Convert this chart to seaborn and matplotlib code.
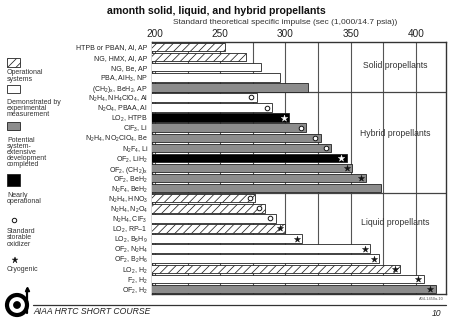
import matplotlib
matplotlib.use("Agg")
import numpy as np
import pandas as pd
import seaborn as sns
import matplotlib.pyplot as plt
from matplotlib.patches import Rectangle, Ellipse
from matplotlib.lines import Line2D

sns.set_theme(style="white")
plt.rcParams["font.family"] = ["Liberation Sans", "DejaVu Sans"]
plt.rcParams["mathtext.fontset"] = "custom"
plt.rcParams["mathtext.rm"] = "Liberation Sans"
plt.rcParams["mathtext.it"] = "Liberation Sans:italic"
plt.rcParams["mathtext.bf"] = "Liberation Sans:bold"
plt.rcParams["mathtext.default"] = "regular"
plt.rcParams["hatch.linewidth"] = 0.55

# ---------------- data ----------------
labels = [
    "HTPB or PBAN, Al, AP",
    "NG, HMX, Al, AP",
    "NG, Be, AP",
    "PBA, AlH$_3$, NP",
    "(CH$_2$)$_x$, BeH$_2$, AP",
    "N$_2$H$_4$, NH$_4$ClO$_4$, Al",
    "N$_2$O$_4$, PBAA, Al",
    "LO$_2$, HTPB",
    "ClF$_3$, Li",
    "N$_2$H$_4$, NO$_2$ClO$_4$, Be",
    "N$_2$F$_4$, Li",
    "OF$_2$, LiH$_2$",
    "OF$_2$, (CH$_2$)$_x$",
    "OF$_2$, BeH$_2$",
    "N$_2$F$_4$, BeH$_2$",
    "N$_2$H$_4$, HNO$_3$",
    "N$_2$H$_4$, N$_2$O$_4$",
    "N$_2$H$_4$, ClF$_3$",
    "LO$_2$, RP\u20131",
    "LO$_2$, B$_5$H$_9$",
    "OF$_2$, N$_2$H$_4$",
    "OF$_2$, B$_2$H$_6$",
    "LO$_2$, H$_2$",
    "F$_2$, H$_2$",
    "OF$_2$, H$_2$",
]
isp = [254, 270, 281, 296, 317,
       278, 290, 303, 316, 327, 335, 347, 351, 362, 373,
       277, 284, 292.5, 300, 313, 365, 372, 388, 406, 415]
status = ["op", "op", "demo", "demo", "pot",
          "demo", "demo", "near", "pot", "pot", "pot", "near", "pot", "pot", "pot",
          "op", "op", "demo", "op", "demo", "demo", "demo", "op", "demo", "pot"]
note = ["", "", "", "", "",
        "o", "o", "*", "o", "o", "o", "*", "*", "*", "",
        "o", "o", "o", "*", "*", "*", "*", "*", "*", "*"]
ticks = [200, 250, 300, 350, 400]
section_names = ["Solid propellants", "Hybrid propellants", "Liquid propellants"]
section_label_rows = [1.8, 8.6, 17.45]
section_breaks = [4.5, 14.5]

df = pd.DataFrame({"label": labels, "isp": isp, "status": status, "note": note})
df["row"] = np.arange(len(df))

GRAY = "#8c8c8c"
face = {"op": "white", "demo": "white", "pot": GRAY, "near": "black"}
hatch = {"op": "////", "demo": None, "pot": None, "near": None}

# ---------------- figure ----------------
W, H = 451, 319
fig = plt.figure(figsize=(W / 100, H / 100), dpi=100)
ax = fig.add_axes([152 / W, 1 - 294 / H, (446 - 152) / W, (294 - 42) / H])

def fx(x):
    return x / W

def fy(y):
    return 1 - y / H

sns.barplot(data=df, x="isp", y="label", order=labels, color="white",
            orient="h", width=0.84, edgecolor="#222222", linewidth=0.6,
            errorbar=None, ax=ax)

for p in ax.patches:
    r = int(round(p.get_y() + p.get_height() / 2))
    k = df["status"].iloc[r]
    p.set_facecolor(face[k])
    if hatch[k]:
        p.set_hatch(hatch[k])
    p.set_zorder(3)

off = 4.2
circ = df[df["note"] == "o"]
sns.scatterplot(x=circ["isp"] - off, y=circ["row"], marker="o", s=11,
                color="white", edgecolor="#111111", linewidth=0.7, ax=ax, zorder=6)
stars = df[df["note"] == "*"]
dark = stars[stars["status"] == "near"]
light = stars[stars["status"] != "near"]
sns.scatterplot(x=light["isp"] - off, y=light["row"], marker="*", s=22,
                color="#111111", edgecolor="#111111", linewidth=0.3, ax=ax, zorder=6)
sns.scatterplot(x=dark["isp"] - off, y=dark["row"], marker="*", s=24,
                color="white", edgecolor="white", linewidth=0.3, ax=ax, zorder=6)

ax.set_xlim(197.7, 423)
ax.set_ylim(24.5, -0.5)
ax.set_yticks(range(len(labels)))
ax.set_yticklabels(labels)
ax.set_xticks(ticks)
ax.set_xticks([225, 275, 325, 375], minor=True)
ax.xaxis.tick_top()
ax.set_axisbelow(True)
ax.grid(axis="x", which="both", color="#555555", lw=0.8)
ax.tick_params(axis="x", which="both", length=0, pad=2.5, labelsize=7.2, colors="#222222")
ax.tick_params(axis="y", length=0, pad=3, labelsize=5, colors="#222222")
ax.set_xlabel("")
ax.set_ylabel("")
for s in ax.spines.values():
    s.set_visible(True)
    s.set_color("#333333")
    s.set_linewidth(1.0)
for yb in section_breaks:
    ax.axhline(yb, color="#444444", lw=0.9, zorder=2)
for name, r in zip(section_names, section_label_rows):
    ax.text(383.9, r, name, ha="center", va="center", fontsize=6.2, color="#333333", zorder=1)

# titles
fig.text(fx(216), fy(11), "amonth solid, liquid, and hybrid propellants",
         ha="center", va="center", fontsize=7.6, weight="bold", color="#111111")
fig.text(fx(285), fy(22), "Standard theoretical specific impulse (sec (1,000/14.7 psia))",
         ha="center", va="center", fontsize=6.0, color="#333333")

# left legend
def box(y0, y1, fc, h=None):
    r = Rectangle((fx(7), fy(y1)), fx(20) - fx(7), fy(y0) - fy(y1), transform=fig.transFigure,
                  facecolor=fc, edgecolor="#222222", lw=0.6, hatch=h)
    fig.add_artist(r)

box(58, 67, "white", "////")
box(85, 93, "white")
box(122, 130, GRAY)
box(174, 186, "black")

leg_txt = [
    (69.5, "Operational\nsystems"),
    (98.5, "Demonstrated by\nexperimental\nmeasurement"),
    (136.5, "Potential\nsystem-\nextensive\ndevelopment\ncompleted"),
    (192, "Nearly\noperational"),
    (228, "Standard\nstorable\noxidizer"),
    (266, "Cryogenic"),
]
for y, t in leg_txt:
    fig.text(fx(7), fy(y), t, ha="left", va="top", fontsize=5.0, color="#333333",
             linespacing=0.85)
fig.add_artist(Line2D([fx(14)], [fy(220)], marker="o", markersize=3.2, markerfacecolor="white",
                      markeredgecolor="#111111", markeredgewidth=0.7, transform=fig.transFigure))
fig.add_artist(Line2D([fx(15)], [fy(260)], marker="*", markersize=4.5, markerfacecolor="#111111",
                      markeredgecolor="#111111", markeredgewidth=0.3, transform=fig.transFigure))

# footer
fig.add_artist(Line2D([fx(33), fx(446)], [fy(305), fy(305)], color="#333333", lw=0.9,
                      transform=fig.transFigure))
fig.text(fx(33), fy(311), "AIAA HRTC SHORT COURSE", ha="left", va="center", fontsize=6.2,
         style="italic", color="#222222")
fig.text(fx(441), fy(313), "10", ha="right", va="center", fontsize=6.2, style="italic", color="#222222")
fig.text(fx(444), fy(299), "A04-1450a-10", ha="right", va="center", fontsize=2.8, color="#555555")

# logo
fig.add_artist(Ellipse((fx(17), fy(305)), 20 / W, 20 / H, transform=fig.transFigure,
                       facecolor="white", edgecolor="black", lw=3.0))
fig.add_artist(Ellipse((fx(17), fy(305)), 7 / W, 7 / H, transform=fig.transFigure,
                       facecolor="black", edgecolor="black", lw=0.5))
fig.add_artist(Line2D([fx(27), fx(27)], [fy(313), fy(289)], color="black", lw=1.6,
                      transform=fig.transFigure))
fig.add_artist(Line2D([fx(27)], [fy(289)], marker="^", markersize=3, color="black",
                      transform=fig.transFigure))

fig.savefig("out.png", dpi=100)
